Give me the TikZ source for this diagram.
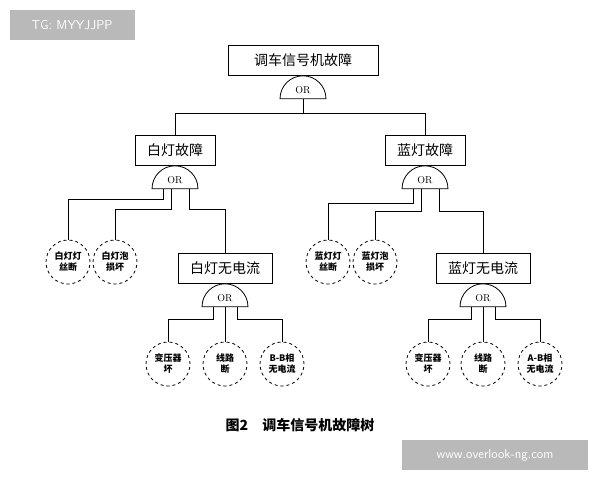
\documentclass[tikz,border=0pt]{standalone}
\usepackage{fontspec}
\newfontfamily\cjk{Noto Sans CJK SC}
\usetikzlibrary{shapes.geometric}

\begin{document}
\begin{tikzpicture}[x=1pt,y=-1pt,
  event/.style={draw,thick,minimum height=30pt,font=\cjk\fontsize{14}{14}\selectfont,inner xsep=12pt},
  basic/.style={draw,thick,dashed,circle,minimum size=44pt,inner sep=0pt,align=center,font=\cjk\bfseries\fontsize{9}{11}\selectfont},
  gate/.style={draw,thick,semicircle,minimum width=46pt,inner sep=1pt,font=\fontsize{10}{10}\selectfont,fill=white},
  wire/.style={thick}]
\useasboundingbox (0,0) rectangle (600,480);
% watermarks
\node[fill=gray!55,text=white,font=\sffamily\fontsize{13}{13}\selectfont,minimum width=125pt,minimum height=30pt] (wm1) at (72,25) {TG: MYYJJPP};
\node[fill=gray!55,text=white,font=\sffamily\fontsize{13}{13}\selectfont,minimum width=186pt,minimum height=30pt] (wm2) at (495,455) {www.overlook-ng.com};

% top event
\node[event,minimum width=150pt] (top) at (303,60) {调车信号机故障};
\node[gate,anchor=north] (g0) at (top.south) {OR};

\node[event] (w) at (175,150) {白灯故障};
\node[event] (b) at (425,150) {蓝灯故障};
\node[gate,anchor=north] (gw) at (w.south) {OR};
\node[gate,anchor=north] (gb) at (b.south) {OR};

\node[basic] (w1) at (68,262) {白灯灯\\丝断};
\node[basic] (w2) at (115,262) {白灯泡\\损坏};
\node[event] (wn) at (225,268) {白灯无电流};
\node[gate,anchor=north] (gwn) at (wn.south) {OR};
\node[basic] (wa) at (168,364) {变压器\\坏};
\node[basic] (wb) at (225,364) {线路\\断};
\node[basic] (wc) at (282,364) {B-B相\\无电流};

\node[basic] (b1) at (328,262) {蓝灯灯\\丝断};
\node[basic] (b2) at (375,262) {蓝灯泡\\损坏};
\node[event] (bn) at (483,268) {蓝灯无电流};
\node[gate,anchor=north] (gbn) at (bn.south) {OR};
\node[basic] (ba) at (428,364) {变压器\\坏};
\node[basic] (bb) at (483,364) {线路\\断};
\node[basic] (bc) at (540,364) {A-B相\\无电流};

% connectors
\draw[wire] (g0.chord center) -- ++(0,14) -| (w.north);
\draw[wire] (g0.chord center) -- ++(0,14) -| (b.north);
\draw[wire] ([xshift=-12pt]gw.chord center) -- ++(0,10) -| (w1.north);
\draw[wire] ([xshift=-4pt]gw.chord center) -- ++(0,20) -| (w2.north);
\draw[wire] ([xshift=14pt]gw.chord center) -- ++(0,20) -| (wn.north);
\draw[wire] ([xshift=-12pt]gb.chord center) -- ++(0,14) -| (b1.north);
\draw[wire] ([xshift=-4pt]gb.chord center) -- ++(0,22) -| (b2.north);
\draw[wire] ([xshift=14pt]gb.chord center) -- ++(0,22) -| (bn.north);
\draw[wire] ([xshift=-12pt]gwn.chord center) -- ++(0,12) -| (wa.north);
\draw[wire] (gwn.chord center) -- (wb.north);
\draw[wire] ([xshift=12pt]gwn.chord center) -- ++(0,12) -| (wc.north);
\draw[wire] ([xshift=-12pt]gbn.chord center) -- ++(0,12) -| (ba.north);
\draw[wire] (gbn.chord center) -- (bb.north);
\draw[wire] ([xshift=12pt]gbn.chord center) -- ++(0,12) -| (bc.north);

% caption
\node[font=\cjk\bfseries\fontsize{14}{14}\selectfont] (cap) at (300,425) {图2\quad 调车信号机故障树};
\end{tikzpicture}
\end{document}
